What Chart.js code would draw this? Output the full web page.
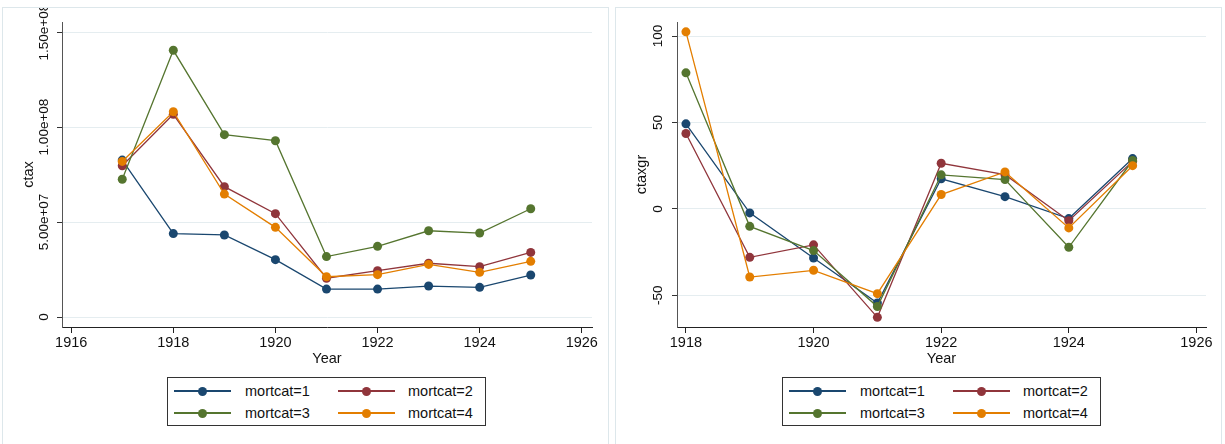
<!DOCTYPE html>
<html>
<head>
<meta charset="utf-8">
<script src="https://cdn.jsdelivr.net/npm/chart.js@4.4.1/dist/chart.umd.min.js"></script>
<style>
	body { margin: 0; background: #fff; width: 1225px; height: 444px; overflow: hidden; position: relative; font-family: "Liberation Sans", Helvetica, Arial, sans-serif; }
	.panel { position: absolute; top: 7px; width: 607px; height: 440px; border: 1px solid #dde7eb; box-sizing: border-box; overflow: hidden; }
	.panel canvas { position: absolute; left: 0; top: 0; }
	.legend { position: absolute; top: 369px; width: 319px; height: 49px; border: 1px solid #333; box-sizing: border-box; background: #fff; }
	.legend .sym { position: absolute; width: 57px; height: 0; }
	.legend .sym .ln { position: absolute; left: 0; right: 0; top: -0.6px; height: 1.3px; }
	.legend .sym .dot { position: absolute; left: 24px; top: -4.5px; width: 9px; height: 9px; border-radius: 50%; }
	.legend .txt { position: absolute; font-size: 14.5px; color: #111; line-height: 16px; }
</style>
</head>
<body>
<div class="panel" id="p1" style="left:2px"><canvas id="c1" width="605" height="436"></canvas><div class="legend" id="lg1" style="left:164px"></div></div>
<div class="panel" id="p2" style="left:615px"><canvas id="c2" width="605" height="436"></canvas><div class="legend" id="lg2" style="left:166px"></div></div>
<script>
const seriesNames = ['mortcat=1', 'mortcat=2', 'mortcat=3', 'mortcat=4'];
const seriesColors = ['#1a476f', '#90353b', '#55752f', '#e37e00'];

// ctax by year
const ctaxYears = [1917, 1918, 1919, 1920, 1921, 1922, 1923, 1924, 1925];
const ctax1 = [82.6e6, 43.9e6, 43.2e6, 30.2e6, 14.7e6, 14.7e6, 16.3e6, 15.6e6, 22.1e6];
const ctax2 = [79.6e6, 106.7e6, 68.6e6, 54.4e6, 20.4e6, 24.4e6, 28.3e6, 26.5e6, 34.0e6];
const ctax3 = [72.5e6, 140.4e6, 96.0e6, 92.8e6, 31.8e6, 37.2e6, 45.4e6, 44.2e6, 57.0e6];
const ctax4 = [81.9e6, 108.1e6, 64.7e6, 47.2e6, 21.2e6, 22.3e6, 27.7e6, 23.5e6, 29.3e6];

// ctaxgr by year
const grYears = [1918, 1919, 1920, 1921, 1922, 1923, 1924, 1925];
const gr1 = [49.2, -2.3, -28.4, -54.4, 17.4, 7.1, -5.6, 29.1];
const gr2 = [43.6, -28.0, -20.8, -62.7, 26.4, 19.8, -6.8, 27.5];
const gr3 = [78.7, -10.1, -24.1, -56.5, 19.7, 17.0, -22.2, 28.0];
const gr4 = [102.4, -39.4, -35.5, -49.0, 8.3, 21.4, -11.0, 25.0];

// tick labels
const xTicks = [1916, 1918, 1920, 1922, 1924, 1926];
const xTicksGr = [1918, 1920, 1922, 1924, 1926];
const ctaxTicks = [0, 5e7, 1e8, 1.5e8];
const ctaxTickLabels = ['0', '5.00e+07', '1.00e+08', '1.50e+08'];
const grTicks = [-50, 0, 50, 100];
const grTickLabels = ['-50', '0', '50', '100'];

const FONT = '"Liberation Sans", Helvetica, Arial, sans-serif';
const gridColor = '#e5edf0';

// y tick labels are drawn turned 90deg, like the original
const rotYLabels = {
	id: 'rotYLabels',
	afterDraw(chart, args, opts) {
		const scale = chart.scales.y;
		const ctx = chart.ctx;
		ctx.save();
		ctx.font = '13.5px ' + FONT;
		ctx.fillStyle = '#111';
		ctx.textAlign = 'center';
		ctx.textBaseline = 'middle';
		for (const t of scale.ticks) {
			const py = scale.getPixelForValue(t.value);
			ctx.save();
			ctx.translate(opts.x, py);
			ctx.rotate(-Math.PI / 2);
			ctx.fillText(t.label, 0, 0);
			ctx.restore();
		}
		ctx.restore();
	}
};

function makeChart(canvas, years, seriesList, cfg) {
	const datasets = seriesList.map((vals, i) => ({
		label: seriesNames[i],
		data: years.map((yr, j) => ({ x: yr, y: vals[j] })),
		borderColor: seriesColors[i],
		backgroundColor: seriesColors[i],
		borderWidth: 1.3,
		pointRadius: 4.5,
		pointBorderWidth: 0,
		pointHoverRadius: 4.5,
		tension: 0,
		order: 4 - i
	}));

	return new Chart(canvas, {
		type: 'line',
		data: { datasets: datasets },
		options: {
			responsive: false,
			animation: false,
			events: [],
			layout: { padding: { left: 0, right: cfg.padRight, top: 14, bottom: 76 } },
			plugins: {
				legend: { display: false },
				tooltip: { enabled: false },
				rotYLabels: { x: cfg.labelX }
			},
			scales: {
				x: {
					type: 'linear',
					min: cfg.xMin,
					max: cfg.xMax,
					afterBuildTicks: s => { s.ticks = cfg.xTicks.map(v => ({ value: v })); },
					afterFit: s => { s.height = 41; },
					grid: { display: true, drawOnChartArea: false, drawTicks: true, tickLength: 6, tickColor: '#222', tickWidth: 1 },
					border: { display: true, color: '#222', width: 1 },
					ticks: { padding: 1, color: '#111', font: { family: FONT, size: 14.5 }, maxRotation: 0, callback: v => String(v) },
					title: { display: true, text: 'Year', color: '#111', font: { family: FONT, size: 14.5 }, padding: 0 }
				},
				y: {
					type: 'linear',
					min: cfg.yMin,
					max: cfg.yMax,
					afterBuildTicks: s => { s.ticks = cfg.yTicks.map(v => ({ value: v })); },
					afterFit: s => { s.width = cfg.yWidth; },
					grid: { display: true, color: gridColor, lineWidth: 1, drawTicks: true, tickLength: 5, tickColor: '#333', tickWidth: 1 },
					border: { display: true, color: '#555', width: 1 },
					ticks: { display: false, callback: (v, i) => cfg.yLabels[cfg.yTicks.indexOf(v)] },
					title: { display: true, text: cfg.yTitle, color: '#111', font: { family: FONT, size: 14.5 }, padding: { top: 17.6, bottom: 0 } }
				}
			}
		},
		plugins: [rotYLabels]
	});
}

function buildLegend(chart, el) {
	const items = chart.data.datasets;
	items.forEach((ds, i) => {
		const col = i % 2, row = Math.floor(i / 2);
		const cy = 13 + row * 22;
		const sym = document.createElement('div');
		sym.className = 'sym';
		sym.style.left = (6 + col * 164) + 'px';
		sym.style.top = cy + 'px';
		sym.innerHTML = '<div class="ln" style="background:' + ds.borderColor + '"></div><div class="dot" style="background:' + ds.borderColor + '"></div>';
		el.appendChild(sym);
		const txt = document.createElement('div');
		txt.className = 'txt';
		txt.style.left = (77 + col * 163) + 'px';
		txt.style.top = (cy - 8) + 'px';
		txt.textContent = ds.label;
		el.appendChild(txt);
	});
}

const chart1 = makeChart(document.getElementById('c1'), ctaxYears, [ctax1, ctax2, ctax3, ctax4], {
	xMin: 1915.82, xMax: 1926.2, xTicks: xTicks,
	yMin: -5.26e6, yMax: 1.553e8, yTicks: ctaxTicks, yLabels: ctaxTickLabels,
	yTitle: 'ctax', yWidth: 59, padRight: 16, labelX: 41
});
const chart2 = makeChart(document.getElementById('c2'), grYears, [gr1, gr2, gr3, gr4], {
	xMin: 1917.86, xMax: 1926.15, xTicks: xTicksGr,
	yMin: -68.3, yMax: 108.1, yTicks: grTicks, yLabels: grTickLabels,
	yTitle: 'ctaxgr', yWidth: 61, padRight: 15, labelX: 42
});

buildLegend(chart1, document.getElementById('lg1'));
buildLegend(chart2, document.getElementById('lg2'));
</script>
</body>
</html>
